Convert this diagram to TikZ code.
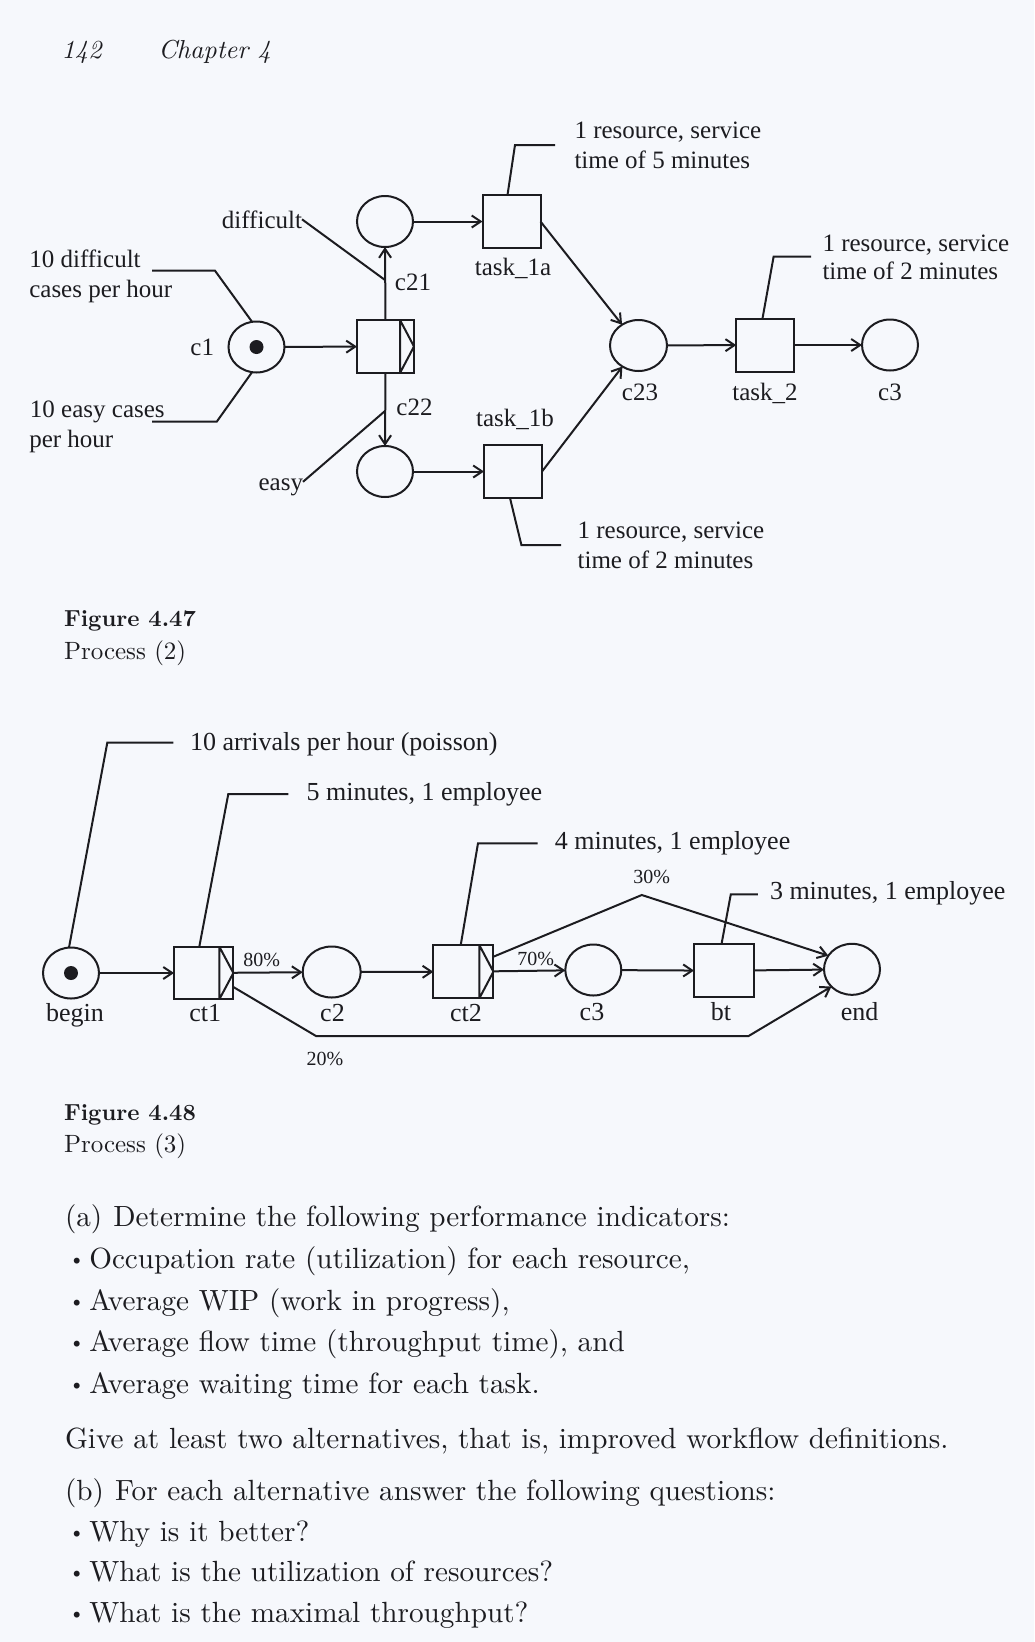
\documentclass[tikz,border=0pt]{standalone}
\usepackage{fontspec}
\newfontfamily\diagfont{Liberation Serif}
\usetikzlibrary{arrows.meta,shapes.geometric}
\definecolor{ink}{RGB}{28,28,32}
\definecolor{paper}{RGB}{246,248,252}
\newcommand\pbul{\makebox[7.3pt][l]{\raisebox{1pt}{\fontsize{6.8}{7}\selectfont\textbullet}}}
\newcommand\ptx[1]{\scalebox{2.92}{\fontsize{10}{12}\selectfont #1}}
\begin{document}
\begin{tikzpicture}[x=1pt,y=-1pt,
  every node/.style={inner sep=0pt, outer sep=0pt, text=ink},
  conn/.style={draw=ink, line width=2pt},
  arr/.style={conn, -{Straight Barb[length=9pt,width=12pt]}},
  place/.style={ellipse, draw=ink, line width=2pt, minimum width=56pt, minimum height=51pt},
  trans/.style={rectangle, draw=ink, line width=2pt, minimum width=58pt, minimum height=53pt},
  splitbox/.style={trans, path picture={
    \draw[ink, line width=2pt]
      ([xshift=-14pt]path picture bounding box.north east) -- ([xshift=-14pt]path picture bounding box.south east)
      ([xshift=-14pt]path picture bounding box.north east) -- (path picture bounding box.east) -- ([xshift=-14pt]path picture bounding box.south east);}},
  tok/.style={circle, fill=ink, minimum size=14pt},
  fa/.style={font=\diagfont\fontsize{25}{30}\selectfont},
  fb/.style={font=\diagfont\fontsize{26}{31}\selectfont},
  fp/.style={font=\diagfont\fontsize{20}{24}\selectfont, anchor=base west},
  ptxt/.style={anchor=base west},
]
\fill[paper] (0,0) rectangle (1034,1642);
\useasboundingbox (0,0) rectangle (1034,1642);

% ---------- page header ----------
\node[anchor=base west] (pg) at (61.7,58) {\scalebox{2.6}{\fontsize{10}{12}\selectfont\itshape 142}};
\node[anchor=base west] (chap) at (158.3,58) {\scalebox{2.6}{\fontsize{10}{12}\selectfont\itshape Chapter 4}};

% ---------- Figure 4.47 ----------
\node[place] (c1) at (256.5,347) {};
\node[tok] (c1tok) at (c1) {};
\node[splitbox, minimum width=57pt] (t0) at (385.5,346.5) {};
\node[place] (c21) at (385,221.5) {};
\node[place] (c22) at (385,471.5) {};
\node[trans] (t1a) at (511.5,221.5) {};
\node[trans] (t1b) at (513,471.5) {};
\node[place, minimum width=57pt] (c23) at (638.5,345.5) {};
\node[trans, minimum width=57.5pt] (t2) at (765,345) {};
\node[place] (c3) at (890,345) {};

\draw[arr] (c1) -- (t0);
\draw[arr] (t0.north) -- (c21.south);
\draw[arr] (t0.south) -- (c22.north);
\draw[arr] (c21) -- (t1a);
\draw[arr] (c22) -- (t1b);
\draw[arr] (t1a.east) -- (c23);
\draw[arr] (t1b.east) -- (c23);
\draw[arr] (c23) -- (t2);
\draw[arr] (t2) -- (c3);

\node[fa, anchor=base east] (lc1) at (214,355) {c1};
\node[fa, anchor=base east] (ldiff) at (302,228) {difficult};
\node[fa, anchor=base east] (leasy) at (303,490) {easy};
\node[fa, anchor=base] (lc21) at (413,290) {c21};
\node[fa, anchor=base] (lc22) at (414.5,415) {c22};
\node[fa, anchor=base] (lt1a) at (513,275) {task\_1a};
\node[fa, anchor=base] (lt1b) at (515,426.7) {task\_1b};
\node[fa, anchor=base] (lc23) at (640,400) {c23};
\node[fa, anchor=base] (lt2) at (765,400) {task\_2};
\node[fa, anchor=base] (lc3) at (890,400) {c3};

\coordinate (dtip) at (385,280);
\coordinate (etip) at (385,411);
\draw[conn] (ldiff.east) -- (dtip);
\draw[conn] ([yshift=5pt]leasy.east) -- (etip);

\node[fa, anchor=base west] (dif1) at (29.3,267) {10 difficult};
\node[fa, anchor=base west] (dif2) at (29.3,297) {cases per hour};
\node[fa, anchor=base west] (eas1) at (30,417) {10 easy cases};
\node[fa, anchor=base west] (eas2) at (29.3,447) {per hour};
\coordinate (k1a) at (152,270.7);
\coordinate (k1b) at (215,270.7);
\draw[conn] (k1a) -- (k1b) -- (c1.100);
\coordinate (k2a) at (152,421.7);
\coordinate (k2b) at (216.7,421.7);
\draw[conn] (k2a) -- (k2b) -- (c1.260);

\node[fa, anchor=base west] (r1a1) at (574.5,138.3) {1 resource, service};
\node[fa, anchor=base west] (r1a2) at (574.5,168.3) {time of 5 minutes};
\coordinate (k3a) at (555,145);
\coordinate (k3b) at (515,145);
\draw[conn] (k3a) -- (k3b) -- ([xshift=-4pt]t1a.north);

\node[fa, anchor=base west] (r1b1) at (577.6,538.3) {1 resource, service};
\node[fa, anchor=base west] (r1b2) at (577.6,568.3) {time of 2 minutes};
\coordinate (k4a) at (561,545);
\coordinate (k4b) at (521.4,545);
\draw[conn] (k4a) -- (k4b) -- ([xshift=-3pt]t1b.south);

\node[fa, anchor=base west] (r21) at (822.5,251) {1 resource, service};
\node[fa, anchor=base west] (r22) at (822.5,279.5) {time of 2 minutes};
\coordinate (k5a) at (811,256.7);
\coordinate (k5b) at (773.6,256.7);
\draw[conn] (k5a) -- (k5b) -- ([xshift=-2.5pt]t2.north);

\node[anchor=base west] (fig47) at (64,626.5) {\scalebox{2.32}{\fontsize{10}{12}\selectfont\bfseries Figure 4.47}};
\node[anchor=base west] (proc2) at (64,659.3) {\scalebox{2.5}{\fontsize{10}{12}\selectfont Process (2)}};

% ---------- Figure 4.48 ----------
\node[place] (begin) at (71,973) {};
\node[tok] (begintok) at (begin) {};
\node[splitbox, minimum width=59.3pt, minimum height=52.6pt] (ct1) at (203.7,973) {};
\node[place, minimum width=58pt] (c2) at (331.7,972) {};
\node[splitbox, minimum width=60pt] (ct2) at (463.4,971.7) {};
\node[place] (c3b) at (593.3,970) {};
\node[trans, minimum width=60pt] (bt) at (724,970.7) {};
\node[place] (endp) at (852,969.3) {};

\draw[arr] (begin) -- (ct1);
\draw[arr] (ct1) -- (c2);
\draw[arr] (c2) -- (ct2);
\draw[arr] (ct2) -- (c3b);
\draw[arr] (c3b) -- (bt);
\draw[arr] (bt) -- (endp);
\coordinate (b20a) at (316,1036);
\coordinate (b20b) at (748.6,1036);
\draw[arr] ([yshift=-14pt]ct1.east) -- (b20a) -- (b20b) -- (endp.220);
\coordinate (b30) at (641.8,895);
\draw[arr] ([yshift=15pt]ct2.east) -- (b30) -- (endp.150);

\node[fb, anchor=base] (lbegin) at (75,1021.5) {begin};
\node[fb, anchor=base] (lct1) at (205.3,1021.5) {ct1};
\node[fb, anchor=base] (lc2) at (332.5,1021.5) {c2};
\node[fb, anchor=base] (lct2) at (466,1021) {ct2};
\node[fb, anchor=base] (lc3b) at (592,1020) {c3};
\node[fb, anchor=base] (lbt) at (721,1020) {bt};
\node[fb, anchor=base] (lend) at (859.6,1020) {end};

\node[fp] (p80) at (243.3,966.7) {80\%};
\node[fp] (p70) at (517.3,965) {70\%};
\node[fp] (p30) at (633.3,883) {30\%};
\node[fp] (p20) at (306.7,1065) {20\%};

\node[fb, anchor=base west] (arrv) at (190,750) {10 arrivals per hour (poisson)};
\node[fb, anchor=base west] (m5) at (306.7,800) {5 minutes, 1 employee};
\node[fb, anchor=base west] (m4) at (554.9,849) {4 minutes, 1 employee};
\node[fb, anchor=base west] (m3) at (770,899) {3 minutes, 1 employee};
\coordinate (q1a) at (173.3,742.7);
\coordinate (q1b) at (107.3,742.7);
\draw[conn] (q1a) -- (q1b) -- ([xshift=-2pt]begin.north);
\coordinate (q2a) at (288.3,794);
\coordinate (q2b) at (228.3,794);
\draw[conn] (q2a) -- (q2b) -- ([xshift=-4.4pt]ct1.north);
\coordinate (q3a) at (537.5,843.3);
\coordinate (q3b) at (478,843.3);
\draw[conn] (q3a) -- (q3b) -- ([xshift=-2.7pt]ct2.north);
\coordinate (q4a) at (757.9,894.3);
\coordinate (q4b) at (730.8,894.3);
\draw[conn] (q4a) -- (q4b) -- ([xshift=-2.5pt]bt.north);

\node[anchor=base west] (fig48) at (64,1120.7) {\scalebox{2.32}{\fontsize{10}{12}\selectfont\bfseries Figure 4.48}};
\node[anchor=base west] (proc3) at (64,1152.7) {\scalebox{2.5}{\fontsize{10}{12}\selectfont Process (3)}};

% ---------- exercise text ----------
\node[ptxt] (qa) at (65,1226.5) {\ptx{(a)\hspace{3.8pt}Determine the following performance indicators:}};
\node[ptxt] (qa1) at (68,1268.3) {\ptx{\pbul Occupation rate (utilization) for each resource,}};
\node[ptxt] (qa2) at (68,1310) {\ptx{\pbul Average WIP (work in progress),}};
\node[ptxt] (qa3) at (68,1351.7) {\ptx{\pbul Average flow time (throughput time), and}};
\node[ptxt] (qa4) at (68,1393.3) {\ptx{\pbul Average waiting time for each task.}};
\node[ptxt] (give) at (65,1448) {\ptx{Give at least two alternatives, that is, improved workflow definitions.}};
\node[ptxt] (qb) at (65,1500) {\ptx{(b)\hspace{3.8pt}For each alternative answer the following questions:}};
\node[ptxt] (qb1) at (68,1541) {\ptx{\pbul Why is it better?}};
\node[ptxt] (qb2) at (68,1581) {\ptx{\pbul What is the utilization of resources?}};
\node[ptxt] (qb3) at (68,1622) {\ptx{\pbul What is the maximal throughput?}};
\end{tikzpicture}
\end{document}
